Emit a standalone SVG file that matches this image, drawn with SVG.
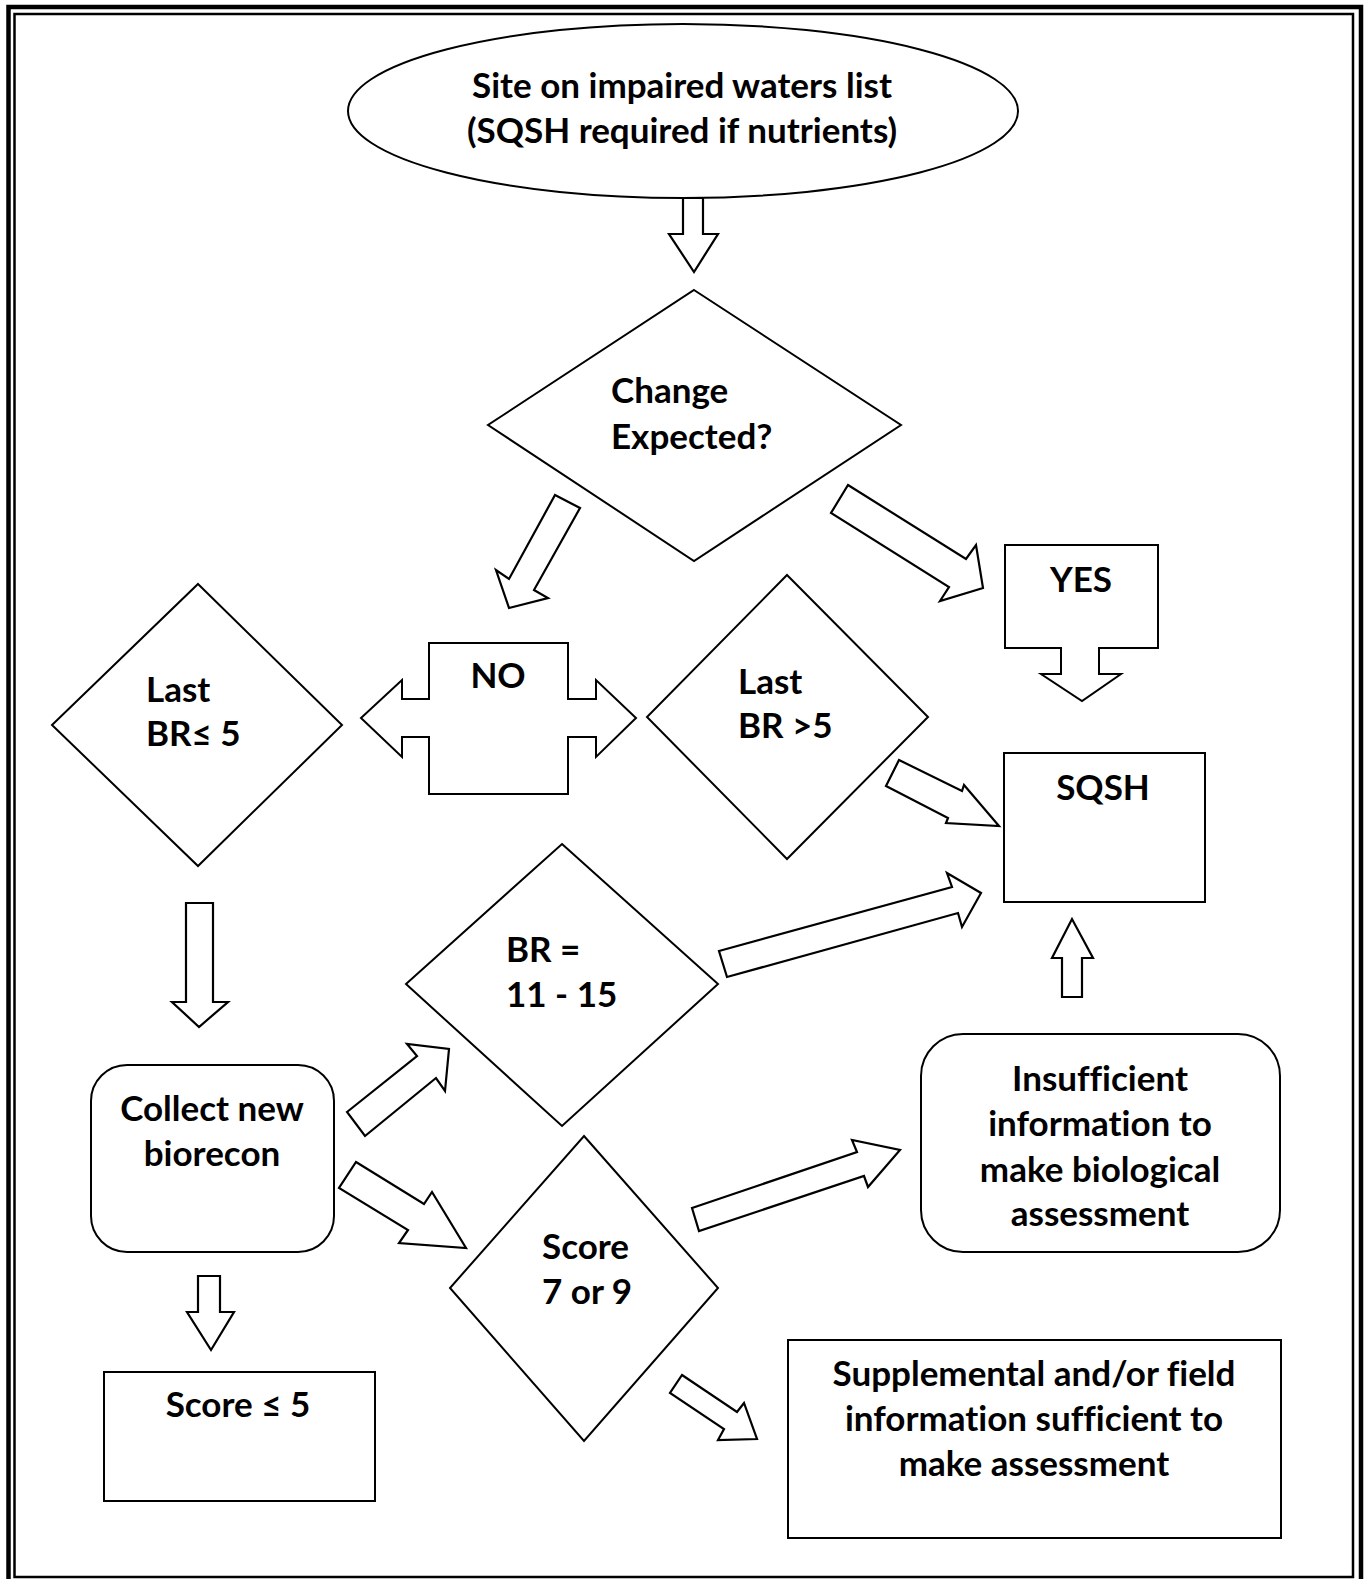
<svg xmlns="http://www.w3.org/2000/svg" width="1368" height="1579" viewBox="0 0 1368 1579">
<style>
.s{fill:#fff;stroke:#000;stroke-width:2;stroke-linejoin:miter}
.a{fill:#fff;stroke:#000;stroke-width:2.2;stroke-linejoin:miter}
text{font-family:Lato,"Liberation Sans",sans-serif;font-weight:bold;font-size:35px;fill:#000;font-variant-ligatures:none}
.c{text-anchor:middle}
</style>
<rect width="1368" height="1579" fill="#fff"/>
<g id="border" fill="none" stroke="#000">
<rect x="8.5" y="7" width="1352.5" height="1578" stroke-width="4.5"/>
<rect x="14.5" y="14" width="1338.5" height="1563" stroke-width="2.5"/>
</g>
<g id="start">
<ellipse class="s" cx="683" cy="111" rx="335" ry="87"/>
<text class="c" x="682" y="98">Site on impaired waters list</text>
<text class="c" x="682" y="143">(SQSH required if nutrients)</text>
</g>
<g id="change">
<polygon class="s" points="694,290 901,425 694,561 488,425"/>
<text x="611" y="403">Change</text>
<text x="611" y="449">Expected?</text>
</g>
<g id="yes">
<polygon class="s" points="1005,545 1158,545 1158,648 1099,648 1099,674 1121,674 1082,701 1041,674 1061,674 1061,648 1005,648"/>
<text class="c" x="1081" y="592">YES</text>
</g>
<g id="no">
<polygon class="s" points="429,643 568,643 568,699 596,699 596,680 636,718 596,757 596,737 568,737 568,794 429,794 429,737 402,737 402,757 361,718 402,680 402,699 429,699"/>
<text class="c" x="498" y="688">NO</text>
</g>
<g id="last-le5">
<polygon class="s" points="198,584 342,725 198,866 52,725"/>
<text x="146" y="702">Last</text>
<text x="146" y="746">BR≤ 5</text>
</g>
<g id="last-gt5">
<polygon class="s" points="787,575 928,717 787,859 647,717"/>
<text x="738" y="694">Last</text>
<text x="738" y="738">BR &gt;5</text>
</g>
<g id="sqsh">
<rect class="s" x="1004" y="753" width="201" height="149"/>
<text class="c" x="1103" y="800">SQSH</text>
</g>
<g id="br1115">
<polygon class="s" points="562,844 718,984 562,1126 406,984"/>
<text x="506" y="962">BR =</text>
<text x="506" y="1007">11 - 15</text>
</g>
<g id="insufficient">
<rect class="s" x="921" y="1034" width="359" height="218" rx="42"/>
<text class="c" x="1100" y="1091">Insufficient</text>
<text class="c" x="1100" y="1136">information to</text>
<text class="c" x="1100" y="1182">make biological</text>
<text class="c" x="1100" y="1226">assessment</text>
</g>
<g id="collect">
<rect class="s" x="91" y="1065" width="243" height="187" rx="36"/>
<text class="c" x="212" y="1121">Collect new</text>
<text class="c" x="212" y="1166">biorecon</text>
</g>
<g id="score79">
<polygon class="s" points="584,1136 718,1288 584,1441 450,1288"/>
<text x="542" y="1259">Score</text>
<text x="542" y="1304">7 or 9</text>
</g>
<g id="score-le5">
<rect class="s" x="104" y="1372" width="271" height="129"/>
<text class="c" x="238" y="1417">Score ≤ 5</text>
</g>
<g id="supplemental">
<rect class="s" x="788" y="1340" width="493" height="198"/>
<text class="c" x="1034" y="1386">Supplemental and/or field</text>
<text class="c" x="1034" y="1431">information sufficient to</text>
<text class="c" x="1034" y="1476">make assessment</text>
</g>
<g id="connectors">
<polygon class="a" points="683,198 703,198 703,234 718,234 694,272 669,234 683,234"/>
<polygon class="a" points="555,495 580,508 534,590 548,598 509,608 496,570 509,579"/>
<polygon class="a" points="848,485 966,559 976,545 983,588 940,601 949,587 831,513"/>
<polygon class="a" points="899,760 962,791 964,785 999,826 946,823 948,818 886,786"/>
<polygon class="a" points="719,951 952,887 947,873 981,893 962,927 958,913 727,977"/>
<polygon class="a" points="1062,997 1082,997 1082,958 1093,958 1072,919 1052,958 1062,958"/>
<polygon class="a" points="186,903 213,903 213,1002 228,1002 199,1027 172,1002 186,1002"/>
<polygon class="a" points="347,1112 417,1056 407,1044 449,1049 445,1091 436,1078 365,1136"/>
<polygon class="a" points="356,1162 424,1204 432,1192 466,1248 399,1243 408,1230 339,1188"/>
<polygon class="a" points="692,1208 857,1152 852,1140 900,1150 868,1187 864,1176 699,1231"/>
<polygon class="a" points="682,1375 737,1412 744,1403 757,1439 718,1440 724,1429 670,1393"/>
<polygon class="a" points="198,1276 220,1276 220,1312 234,1312 211,1350 187,1312 198,1312"/>
</g>
</svg>
